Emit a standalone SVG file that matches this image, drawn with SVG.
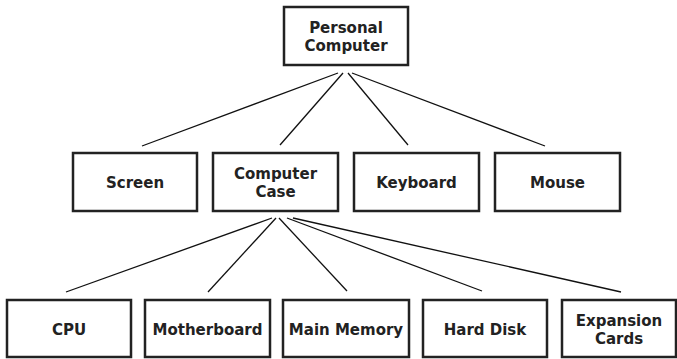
<svg xmlns="http://www.w3.org/2000/svg" width="677" height="359" viewBox="0 0 677 359">
<style>
.box{fill:#fff;stroke:#222;stroke-width:2.5}
.lbl{font-family:"DejaVu Sans",sans-serif;font-weight:bold;font-size:15px;fill:#222;text-anchor:middle}
.edge{stroke:#111;stroke-width:1.3;fill:none}
</style>
<rect width="677" height="359" fill="#fff"/>
<g id="connectors">
<line class="edge" x1="338" y1="73" x2="142" y2="146"/>
<line class="edge" x1="343" y1="73" x2="280" y2="145"/>
<line class="edge" x1="348" y1="73" x2="408" y2="145"/>
<line class="edge" x1="352" y1="73" x2="545" y2="146"/>
<line class="edge" x1="272" y1="218" x2="66" y2="292"/>
<line class="edge" x1="276" y1="218" x2="208" y2="292"/>
<line class="edge" x1="279" y1="218" x2="347" y2="291"/>
<line class="edge" x1="287" y1="218" x2="482" y2="291"/>
<line class="edge" x1="293" y1="218" x2="621" y2="292"/>
</g>
<g id="pc"><rect class="box" x="284" y="7" width="124" height="58"/><text class="lbl" x="346" y="33">Personal</text><text class="lbl" x="346" y="51">Computer</text></g>
<g id="screen"><rect class="box" x="73" y="153" width="124" height="58"/><text class="lbl" x="135" y="188">Screen</text></g>
<g id="case"><rect class="box" x="213" y="153" width="125" height="58"/><text class="lbl" x="275.5" y="179">Computer</text><text class="lbl" x="275.5" y="197">Case</text></g>
<g id="keyboard"><rect class="box" x="354" y="153" width="125" height="58"/><text class="lbl" x="416.5" y="188">Keyboard</text></g>
<g id="mouse"><rect class="box" x="495" y="153" width="125" height="58"/><text class="lbl" x="557.5" y="188">Mouse</text></g>
<g id="cpu"><rect class="box" x="7" y="300" width="124" height="57"/><text class="lbl" x="69" y="335">CPU</text></g>
<g id="motherboard"><rect class="box" x="145" y="300" width="125" height="57"/><text class="lbl" x="207.5" y="335">Motherboard</text></g>
<g id="mainmemory"><rect class="box" x="283" y="300" width="126" height="57"/><text class="lbl" x="346" y="335">Main Memory</text></g>
<g id="harddisk"><rect class="box" x="423" y="300" width="124" height="57"/><text class="lbl" x="485" y="335">Hard Disk</text></g>
<g id="expansion"><rect class="box" x="562" y="300" width="114" height="57"/><text class="lbl" x="619" y="326">Expansion</text><text class="lbl" x="619" y="344">Cards</text></g>
</svg>
